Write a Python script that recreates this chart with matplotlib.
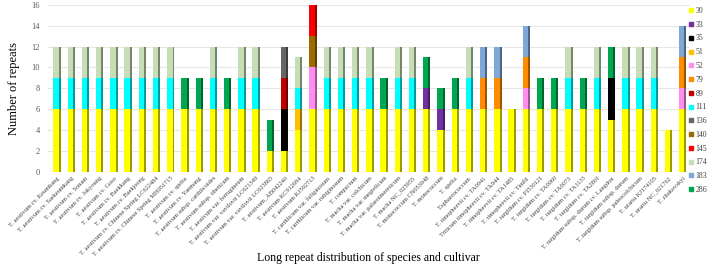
import numpy as np
import matplotlib
matplotlib.use('Agg')
import matplotlib.pyplot as plt
import matplotlib.colors as mcolors
from matplotlib.lines import Line2D

plt.rcParams['font.family'] = ['Liberation Serif', 'DejaVu Serif']

cultivars = [
    'T. aestivum cv. Keumkang', 'T. aestivum cv. Saekeumkang', 'T. aestivum cv. Sonam',
    'T. aestivum cv. Jokyoung', 'T. aestivum cv. Goso', 'T. aestivum cv. Baekkang',
    'T. aestivum cv. Baekjoong', 'T. aestivum cv. Chinese Spring LC622484',
    'T. aestivum cv. Chinese Spring MH051715', 'T. aestivum cv. spelta',
    'T. aestivum cv. Yanmang', 'T. aestivum subsp. carthlicoides',
    'T. aestivum subsp. tibeticum', 'T. aestivum var. ferrugineum',
    'T. aestivum var. vavilovii LC621349', 'T. aestivum var. vavilovii LC623865',
    'T. aestivum_AB042240', 'T. aestivum KC912694', 'T. aestivum KJ592713',
    'T. carthlicum var. fuliginosum', 'T. carthlicum var. rubiginosum', 'T. compactum',
    'T. macha var. colchicum', 'T. macha var. megrelicum',
    'T. macha var. palaeoimereticum', 'T. macha NC_025955', 'T. monococcum CN053948',
    'T. monococcum', 'T. spelta', 'T.sphaerococcum', 'T. timopheevii cv. TA0941',
    'Triticum timopheevii cv. TA944', 'T. timopheevii cv. TA1485',
    'T. timopheevii cv. Timfil', 'T. turgidum cv. PI530121', 'T. turgidum cv. TA0060',
    'T. turgidum cv. TA0073', 'T. turgidum cv. TA1133', 'T. turgidum cv. TA2801',
    'T. turgidum subsp. durum cv. Langdon', 'T. turgidum subsp. durum',
    'T. turgidum subsp. paleocolchicum', 'T. urartu KJ174105', 'T. urartu NC_021762',
    'T. zhukovskyi',
]

# repeat lengths (legend order = stacking order)
lengths = ['30', '33', '35', '51', '52', '79', '89', '111', '136', '140', '145', '174', '183', '286']

s30 = [6, 6, 6, 6, 6, 6, 6, 6, 6, 6, 6, 6, 6, 6, 6,
       2, 2, 4, 6, 6, 6, 6, 6, 6, 6, 6, 6, 4, 6, 6,
       6, 6, 6, 6, 6, 6, 6, 6, 6, 5, 6, 6, 6, 4, 6]
s33 = [0, 0, 0, 0, 0, 0, 0, 0, 0, 0, 0, 0, 0, 0, 0,
       0, 0, 0, 0, 0, 0, 0, 0, 0, 0, 0, 2, 2, 0, 0,
       0, 0, 0, 0, 0, 0, 0, 0, 0, 0, 0, 0, 0, 0, 0]
s35 = [0, 0, 0, 0, 0, 0, 0, 0, 0, 0, 0, 0, 0, 0, 0,
       0, 4, 0, 0, 0, 0, 0, 0, 0, 0, 0, 0, 0, 0, 0,
       0, 0, 0, 0, 0, 0, 0, 0, 0, 4, 0, 0, 0, 0, 0]
s51 = [0, 0, 0, 0, 0, 0, 0, 0, 0, 0, 0, 0, 0, 0, 0,
       0, 0, 2, 0, 0, 0, 0, 0, 0, 0, 0, 0, 0, 0, 0,
       0, 0, 0, 0, 0, 0, 0, 0, 0, 0, 0, 0, 0, 0, 0]
s52 = [0, 0, 0, 0, 0, 0, 0, 0, 0, 0, 0, 0, 0, 0, 0,
       0, 0, 0, 4, 0, 0, 0, 0, 0, 0, 0, 0, 0, 0, 0,
       0, 0, 0, 2, 0, 0, 0, 0, 0, 0, 0, 0, 0, 0, 2]
s79 = [0, 0, 0, 0, 0, 0, 0, 0, 0, 0, 0, 0, 0, 0, 0,
       0, 0, 0, 0, 0, 0, 0, 0, 0, 0, 0, 0, 0, 0, 0,
       3, 3, 0, 3, 0, 0, 0, 0, 0, 0, 0, 0, 0, 0, 3]
s89 = [0, 0, 0, 0, 0, 0, 0, 0, 0, 0, 0, 0, 0, 0, 0,
       0, 3, 0, 0, 0, 0, 0, 0, 0, 0, 0, 0, 0, 0, 0,
       0, 0, 0, 0, 0, 0, 0, 0, 0, 0, 0, 0, 0, 0, 0]
s111 = [3, 3, 3, 3, 3, 3, 3, 3, 3, 0, 0, 3, 0, 3, 3,
        0, 0, 2, 0, 3, 3, 3, 3, 0, 3, 3, 0, 0, 0, 3,
        0, 0, 0, 0, 0, 0, 3, 0, 3, 0, 3, 3, 3, 0, 0]
s136 = [0, 0, 0, 0, 0, 0, 0, 0, 0, 0, 0, 0, 0, 0, 0,
        0, 3, 0, 0, 0, 0, 0, 0, 0, 0, 0, 0, 0, 0, 0,
        0, 0, 0, 0, 0, 0, 0, 0, 0, 0, 0, 0, 0, 0, 0]
s140 = [0, 0, 0, 0, 0, 0, 0, 0, 0, 0, 0, 0, 0, 0, 0,
        0, 0, 0, 3, 0, 0, 0, 0, 0, 0, 0, 0, 0, 0, 0,
        0, 0, 0, 0, 0, 0, 0, 0, 0, 0, 0, 0, 0, 0, 0]
s145 = [0, 0, 0, 0, 0, 0, 0, 0, 0, 0, 0, 0, 0, 0, 0,
        0, 0, 0, 3, 0, 0, 0, 0, 0, 0, 0, 0, 0, 0, 0,
        0, 0, 0, 0, 0, 0, 0, 0, 0, 0, 0, 0, 0, 0, 0]
s174 = [3, 3, 3, 3, 3, 3, 3, 3, 3, 0, 0, 3, 0, 3, 3,
        0, 0, 3, 0, 3, 3, 3, 3, 0, 3, 3, 0, 0, 0, 3,
        0, 0, 0, 0, 0, 0, 3, 0, 3, 0, 3, 3, 3, 0, 0]
s183 = [0, 0, 0, 0, 0, 0, 0, 0, 0, 0, 0, 0, 0, 0, 0,
        0, 0, 0, 0, 0, 0, 0, 0, 0, 0, 0, 0, 0, 0, 0,
        3, 3, 0, 3, 0, 0, 0, 0, 0, 0, 0, 0, 0, 0, 3]
s286 = [0, 0, 0, 0, 0, 0, 0, 0, 0, 3, 3, 0, 3, 0, 0,
        3, 0, 0, 0, 0, 0, 0, 0, 3, 0, 0, 3, 2, 3, 0,
        0, 0, 0, 0, 3, 3, 0, 3, 0, 3, 0, 0, 0, 0, 0]

series = [s30, s33, s35, s51, s52, s79, s89, s111, s136, s140, s145, s174, s183, s286]
colors = ['#FFFF00', '#7030A0', '#000000', '#FFC000', '#FF8CF0', '#FF8C00', '#C00000',
          '#00FFFF', '#666666', '#9C6A00', '#FF0000', '#C6DEB6', '#7FA8D8', '#00A650']


def darker(c, f=0.6):
    r, g, b = mcolors.to_rgb(c)
    return (r * f, g * f, b * f)


fig = plt.figure(figsize=(7.09, 2.79), dpi=100)
ax = fig.add_axes([0.068, 0.385, 0.905, 0.597])

x = np.arange(len(cultivars))
bottom = np.zeros(len(cultivars))
front_w = 0.38
side_w = 0.14
for name, vals, col in zip(lengths, series, colors):
    vals = np.array(vals, dtype=float)
    ax.bar(x - side_w / 2, vals, front_w, bottom=bottom, color=col, zorder=3)
    ax.bar(x + front_w / 2, vals, side_w, bottom=bottom, color=darker(col), zorder=3)
    bottom += vals

ax.set_xlim(-0.62, len(cultivars) - 0.5)
ax.set_ylim(0, 16)
ax.set_yticks(range(0, 17, 2))
ax.yaxis.grid(True, color='#e6e6e6', linewidth=0.8, zorder=0)
ax.set_axisbelow(True)
for s in ax.spines.values():
    s.set_visible(False)
ax.tick_params(axis='both', length=0)
ax.tick_params(axis='y', labelsize=6, labelcolor='#595959', pad=6)
ax.set_xticks(x)
ax.set_xticklabels(cultivars, rotation=45, ha='right', rotation_mode='anchor', fontsize=4.6,
                   color='#404040')
ax.tick_params(axis='x', pad=3)

ax.set_ylabel('Number of repeats', fontsize=9, labelpad=8)
fig.text(0.52, 0.075, 'Long repeat distribution of species and cultivar', fontsize=8.5,
         ha='center', va='center')

handles = [Line2D([], [], marker='s', linestyle='none', markersize=2.2, color=c) for c in colors]
leg = fig.legend(handles, lengths, loc='upper left', bbox_to_anchor=(0.972, 0.975),
                 frameon=False, fontsize=5.6, handlelength=0.5, handletextpad=0.3,
                 labelspacing=0.74, borderpad=0, borderaxespad=0)
for t in leg.get_texts():
    t.set_color('#404040')

fig.savefig('out.png', dpi=100)
